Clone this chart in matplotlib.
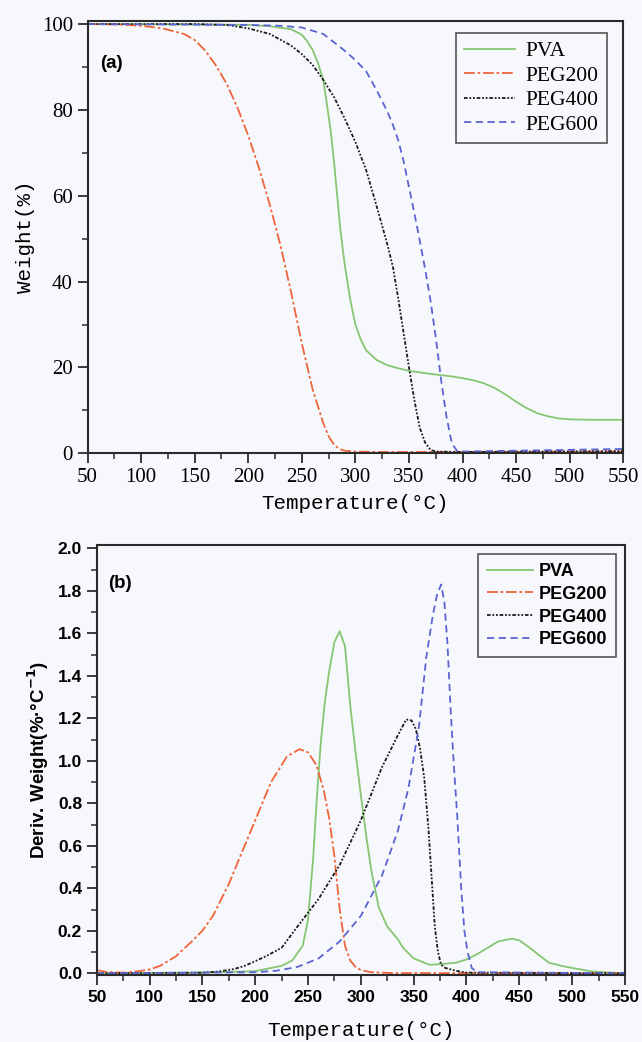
import matplotlib
matplotlib.use('Agg')
import matplotlib.pyplot as plt
from matplotlib.ticker import MultipleLocator, FormatStrFormatter

# ---- TGA data (panel a) ----
pva_t = [50, 150, 200, 220, 240, 250, 255, 260, 265, 270, 273, 277, 280, 283, 286, 290, 295, 300, 305, 310,
         320, 330, 340, 350, 370, 390, 400, 410, 420, 430, 440, 450, 460, 470, 480, 490, 500, 520, 550]
pva_w = [100, 99.9, 99.8, 99.5, 98.8, 97.5, 96, 94, 91, 87, 82, 75, 68, 60, 52, 44, 36, 30, 26.5, 24,
         21.7, 20.5, 19.8, 19.2, 18.5, 17.9, 17.5, 17, 16.3, 15.2, 13.7, 12, 10.5, 9.3, 8.6, 8.1, 7.9, 7.8, 7.8]

peg200_t = [50, 80, 100, 120, 140, 150, 160, 170, 180, 190, 200, 210, 220, 230, 240, 250, 260, 265, 270,
            275, 280, 285, 290, 300, 320, 400, 550]
peg200_w = [100, 99.9, 99.6, 99, 97.7, 96.3, 93.8, 90.3, 86, 80.5, 74, 66.5, 58, 48.5, 37.5, 25.6, 15, 11, 7,
            4, 2, 1, 0.6, 0.4, 0.3, 0.3, 0.4]

peg400_t = [50, 150, 180, 200, 220, 240, 250, 260, 270, 280, 290, 300, 310, 320, 330, 335, 340, 345, 350,
            355, 360, 365, 370, 375, 400, 550]
peg400_w = [100, 100, 99.8, 99, 97.7, 95, 93, 90.5, 87, 83, 78, 72.5, 66, 57.4, 48.5, 43.4, 36, 28, 20,
            12.4, 6, 2.5, 0.8, 0.4, 0.3, 0.5]

peg600_t = [50, 200, 230, 250, 270, 290, 300, 310, 320, 330, 335, 340, 345, 350, 355, 360, 365, 370, 375,
            380, 385, 390, 395, 400, 450, 550]
peg600_w = [100, 99.8, 99.6, 99.2, 97.7, 93.8, 91.6, 89, 84.5, 79.5, 76.5, 72.9, 68, 62, 56, 49.6, 43, 35.7,
            27, 17, 8.5, 2.3, 0.5, 0.4, 0.6, 1.0]

# ---- DTG data (panel b) ----
pva_dt = [50, 150, 200, 225, 235, 245, 250, 255, 258, 262, 266, 270, 275, 280, 285, 290, 295, 300, 305, 310,
          317, 325, 330, 335, 340, 350, 365, 380, 390, 400, 410, 420, 430, 443, 450, 460, 470, 478, 490, 500,
          520, 550]
pva_d = [0, 0.003, 0.01, 0.035, 0.06, 0.13, 0.25, 0.55, 0.8, 1.08, 1.28, 1.42, 1.56, 1.61, 1.54, 1.26, 1.04,
         0.84, 0.65, 0.48, 0.31, 0.22, 0.19, 0.16, 0.12, 0.07, 0.04, 0.045, 0.05, 0.065, 0.09, 0.12, 0.15,
         0.163, 0.155, 0.12, 0.08, 0.05, 0.035, 0.025, 0.008, 0.0]

peg200_dt = [50, 60, 75, 90, 100, 110, 125, 140, 150, 160, 175, 190, 200, 215, 230, 242, 250, 258, 265, 270,
             275, 280, 285, 290, 295, 300, 310, 330, 550]
peg200_d = [0.015, 0.006, 0.003, 0.01, 0.018, 0.035, 0.08, 0.15, 0.2, 0.27, 0.42, 0.6, 0.72, 0.9, 1.02,
            1.055, 1.04, 0.98, 0.86, 0.73, 0.55, 0.3, 0.13, 0.06, 0.03, 0.015, 0.005, 0.001, 0.0]

peg400_dt = [50, 150, 165, 180, 190, 200, 210, 225, 240, 260, 280, 300, 320, 335, 343, 348, 352, 356, 360,
             364, 367, 370, 373, 376, 380, 390, 400, 550]
peg400_d = [0, 0.003, 0.008, 0.02, 0.035, 0.057, 0.08, 0.12, 0.22, 0.35, 0.51, 0.72, 0.97, 1.12, 1.195,
            1.19, 1.15, 1.06, 0.92, 0.68, 0.45, 0.22, 0.1, 0.04, 0.025, 0.012, 0.003, 0]

peg600_dt = [50, 200, 220, 240, 260, 280, 300, 320, 335, 345, 355, 362, 368, 372, 376, 379, 382, 385, 388,
             391, 395, 398, 401, 405, 410, 550]
peg600_d = [0, 0.005, 0.012, 0.03, 0.07, 0.15, 0.27, 0.46, 0.67, 0.87, 1.16, 1.49, 1.68, 1.78, 1.83, 1.75,
            1.55, 1.24, 0.98, 0.76, 0.4, 0.2, 0.1, 0.025, 0.005, 0]

labels = ['PVA', 'PEG200', 'PEG400', 'PEG600']
colors = ['#86c672', '#f0643c', '#1a1a1a', '#5a64d2']
styles = ['-', (0, (6, 1.5, 1.5, 1.5)), (0, (2, 1, 1, 1, 1, 1)), (0, (4, 2.5))]

bg = '#f7f8fc'
fig = plt.figure(figsize=(6.42, 10.42), dpi=100, facecolor=bg)

serif = 'Liberation Serif'
mono = 'Liberation Mono'
sans = 'Liberation Sans'


def style_axes(ax, tickfont, tickweight, ticksize):
    ax.set_facecolor(bg)
    for s in ax.spines.values():
        s.set_linewidth(1.5)
        s.set_color('#2a2a2a')
    ax.set_xlim(50, 550)
    ax.xaxis.set_major_locator(MultipleLocator(50))
    ax.xaxis.set_minor_locator(MultipleLocator(25))
    ax.tick_params(which='major', direction='out', length=7, width=1.3, color='#2a2a2a')
    ax.tick_params(which='minor', direction='out', length=4, width=1.1, color='#2a2a2a')
    for lab in ax.get_xticklabels() + ax.get_yticklabels():
        lab.set_fontfamily(tickfont)
        lab.set_fontweight(tickweight)
        lab.set_fontsize(ticksize)


# panel (a)
ax1 = fig.add_axes([0.1363, 0.5650, 0.8346, 0.4152])
for t, w, lab, c, ls in zip([pva_t, peg200_t, peg400_t, peg600_t], [pva_w, peg200_w, peg400_w, peg600_w],
                            labels, colors, styles):
    ax1.plot(t, w, color=c, linestyle=ls, linewidth=1.3, label=lab)
ax1.set_ylim(0, 100.8)
ax1.yaxis.set_major_locator(MultipleLocator(20))
ax1.yaxis.set_minor_locator(MultipleLocator(10))
style_axes(ax1, serif, 'normal', 15)
ax1.set_xlabel('Temperature(°C)', fontfamily=mono, fontsize=15, labelpad=5)
ax1.set_ylabel('Weight(%)', fontfamily=mono, fontsize=15, labelpad=5)
ax1.text(0.023, 0.89, '(a)', transform=ax1.transAxes, fontfamily=sans, fontweight='bold', fontsize=13.5)
leg1 = ax1.legend(loc='upper right', bbox_to_anchor=(0.97, 0.972), borderaxespad=0,
                  prop={'family': serif, 'size': 15.5},
                  fancybox=False, edgecolor='#555555', facecolor=bg, framealpha=1, labelspacing=0.2,
                  handlelength=2.35, borderpad=0.4, handletextpad=0.5)
leg1.get_frame().set_linewidth(1.2)

# panel (b)
ax2 = fig.add_axes([0.1506, 0.0643, 0.8229, 0.4127])
for t, d, lab, c, ls in zip([pva_dt, peg200_dt, peg400_dt, peg600_dt], [pva_d, peg200_d, peg400_d, peg600_d],
                            labels, colors, styles):
    ax2.plot(t, d, color=c, linestyle=ls, linewidth=1.3, label=lab)
ax2.set_ylim(-0.008, 2.016)
ax2.yaxis.set_major_locator(MultipleLocator(0.2))
ax2.yaxis.set_minor_locator(MultipleLocator(0.1))
ax2.yaxis.set_major_formatter(FormatStrFormatter('%.1f'))
style_axes(ax2, sans, 'bold', 12.5)
ax2.set_xlabel('Temperature(°C)', fontfamily=mono, fontsize=15, labelpad=12)
ax2.set_ylabel('Deriv. Weight(%·°C$^{\\mathbf{-1}}$)', fontfamily=sans, fontweight='bold', fontsize=13.5,
               labelpad=5)
ax2.text(0.021, 0.9, '(b)', transform=ax2.transAxes, fontfamily=sans, fontweight='bold', fontsize=13.5)
leg2 = ax2.legend(loc='upper right', bbox_to_anchor=(0.983, 0.979), borderaxespad=0,
                  prop={'family': sans, 'size': 13, 'weight': 'bold'},
                  fancybox=False, edgecolor='#555555', facecolor=bg, framealpha=1, labelspacing=0.32,
                  handlelength=2.55, borderpad=0.5, handletextpad=0.3)
leg2.get_frame().set_linewidth(1.2)

fig.savefig('out.png', dpi=100, facecolor=bg)
